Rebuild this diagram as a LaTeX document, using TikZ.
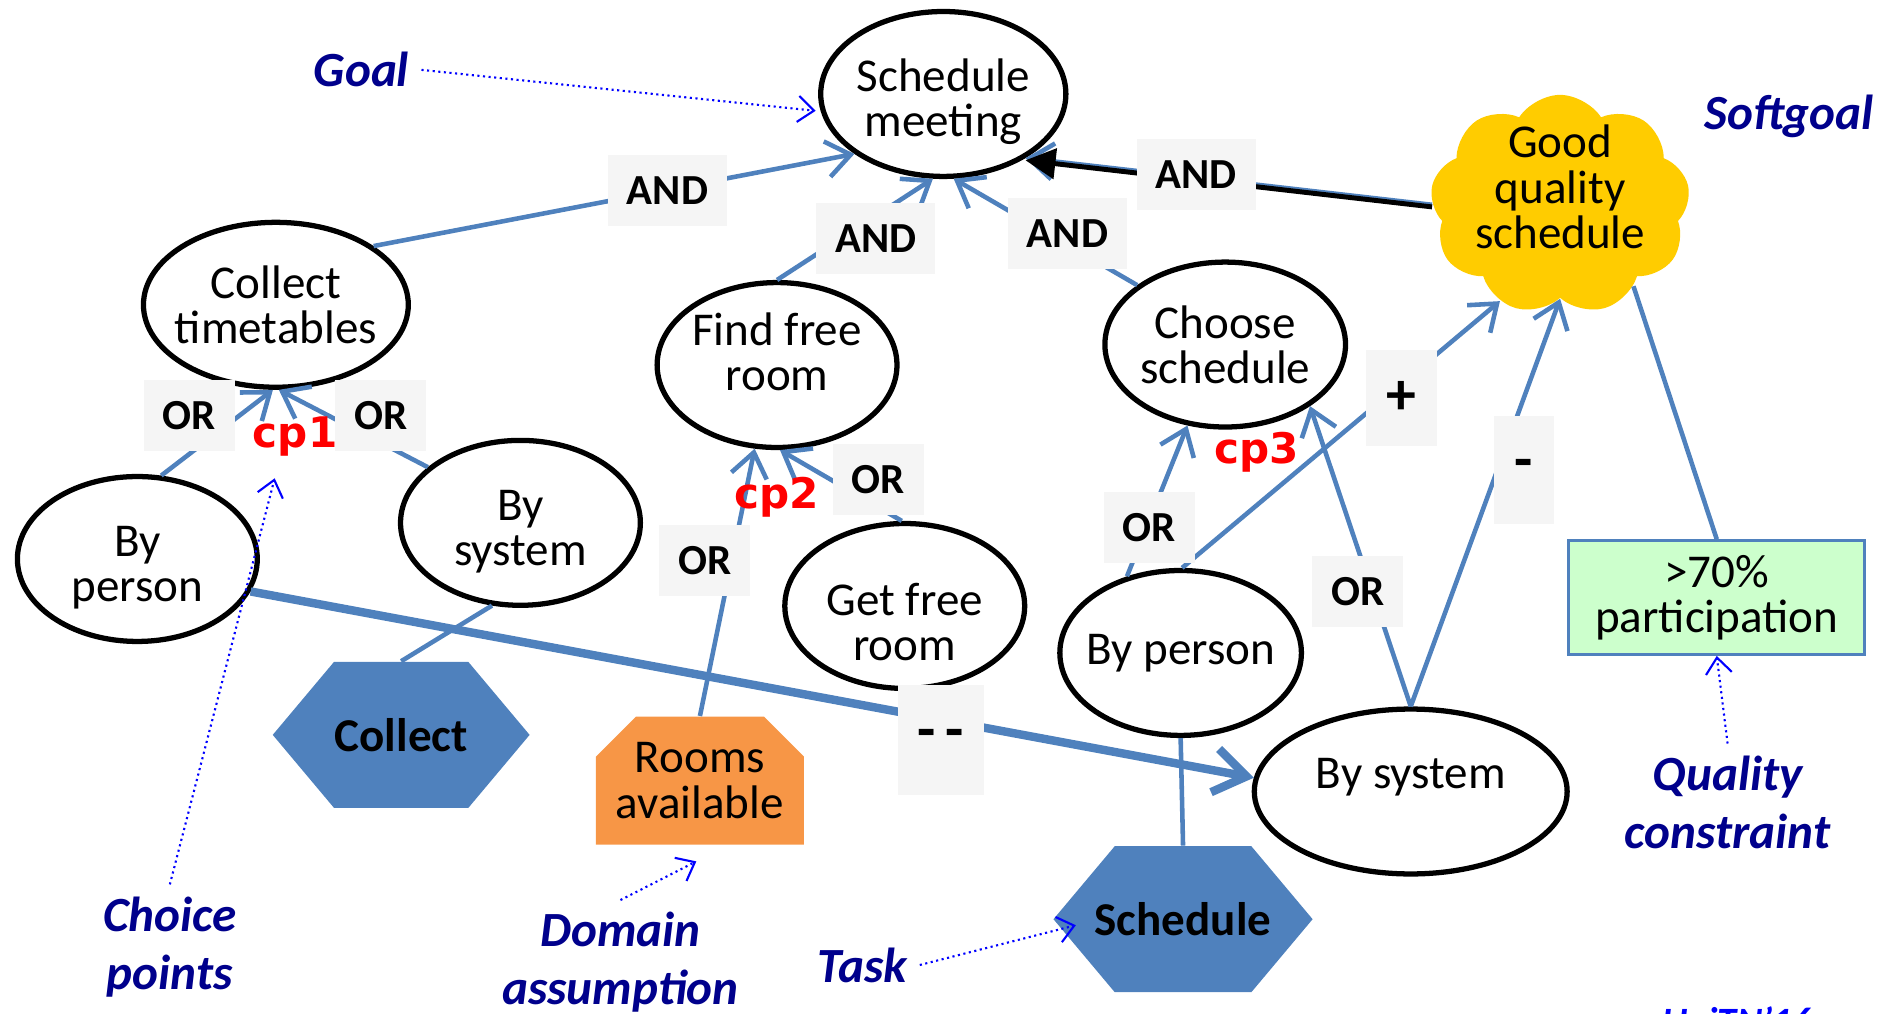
\documentclass[tikz,border=0pt]{standalone}
\usepackage{fontspec}
\setmainfont{Carlito}
\newfontfamily\cpfont{DejaVu Sans}
\usetikzlibrary{shapes.geometric,shapes.symbols,shapes.misc,arrows.meta}
\definecolor{linkblue}{HTML}{4F81BD}
\definecolor{labelgray}{HTML}{F5F5F5}
\definecolor{softyellow}{HTML}{FFCC00}
\definecolor{domorange}{HTML}{F79646}
\definecolor{qcgreen}{HTML}{CCFFCC}
\definecolor{notenavy}{HTML}{00008C}
\definecolor{noteblue}{HTML}{0000FF}
\begin{document}
\begin{tikzpicture}[x=0.012047cm, y=-0.012047cm,
        font=\fontsize{13.4}{12.9}\selectfont,
        goal/.style={ellipse, draw, fill=white, line width=1.5pt, minimum width=2.4cm,
          minimum height=1.65cm, inner sep=0pt, align=center},
        task/.style={signal, signal to=west and east, signal pointer angle=100, fill=linkblue,
          minimum width=2.57cm, minimum height=1.46cm, inner sep=0pt,
          font=\fontsize{13.4}{13.8}\selectfont\bfseries},
        link/.style={draw=linkblue, line width=1.3pt, -{Straight Barb[length=2.4mm,width=3.6mm]}},
        plain/.style={draw=linkblue, line width=1.3pt},
        lbl/.style={fill=labelgray, font=\fontsize{12.2}{13}\selectfont\bfseries,
          minimum height=0.71cm, inner xsep=0.19cm},
        sign/.style={fill=labelgray, font=\fontsize{17}{18}\selectfont\bfseries},
        cp/.style={text=red, font=\cpfont\fontsize{12}{13}\selectfont\bfseries},
        note/.style={text=notenavy, font=\fontsize{14}{16.5}\selectfont\bfseries\itshape, align=center},
        pointer/.style={draw=noteblue, densely dotted, line width=0.6pt,
          -{Straight Barb[length=1.6mm,width=2.6mm]}}]
  \useasboundingbox (0,0) rectangle (1568,841);

  % goals
  \node[goal, text height=0.93cm, inner ysep=-0.05cm] (sm) at (783,78) {Schedule\\meeting};
  \node[goal, minimum width=2.65cm, inner xsep=-0.08cm] (ct) at (229,253) {Collect\\timetables};
  \node[goal, text depth=0.27cm, inner ysep=-0.05cm] (ffr) at (645,303) {Find free\\room};
  \node[goal] (cs) at (1017,286) {Choose\\schedule};
  \node[goal, text height=0.93cm, inner ysep=-0.05cm] (bpl) at (114,464) {By\\person};
  \node[goal, text height=0.93cm, inner ysep=-0.05cm] (bsl) at (432,434) {By\\system};
  \node[goal, text height=1.1cm, inner ysep=-0.1cm] (gfr) at (751,503) {Get free\\room};
  \node[goal, inner xsep=-0.09cm] (bpr) at (980,542) {By person};
  \node[goal, minimum width=3.13cm, text depth=0.36cm] (bsr) at (1171,657) {By system};

  % softgoal, tasks, domain assumption, quality constraint
  \node[cloud, cloud puffs=9, cloud puff arc=115, aspect=1.15, fill=softyellow,
    minimum width=2.6cm, minimum height=2.2cm, inner xsep=-0.1cm, inner ysep=-0.15cm,
    align=center, text depth=0.36cm] (gqs) at (1295,170) {Good\\quality\\schedule};
  \node[task] (collect) at (333,610) {Collect};
  \node[task, inner xsep=-0.2cm] (sched) at (982,763) {Schedule};
  \node[chamfered rectangle, chamfered rectangle corners={north west,north east},
    chamfered rectangle xsep=0.2cm, chamfered rectangle ysep=0.2cm, fill=domorange,
    minimum width=2.07cm, minimum height=1.28cm, inner sep=0pt, align=center]
    (rooms) at (581,648) {Rooms\\available};
  \node[draw=linkblue, fill=qcgreen, line width=0.8pt, minimum width=2.96cm,
    minimum height=1.14cm, align=center] (part) at (1425,496) {>70\%\\participation};

  % refinements and contributions
  \draw[link] (ct.31) -- (sm.214);
  \draw[link] (ffr.90) -- (sm.263);
  \draw[link] (cs.146) -- (sm.277);
  \draw[link] (gqs.180) -- (sm.322);
  \draw[black, line width=1.4pt, -{Triangle[length=3mm,width=3mm]},
    transform canvas={yshift=-0.6pt}] (gqs.180) -- (sm.322);
  \draw[link] (bpl.74) -- (ct.268);
  \draw[link] (bsl.149) -- (ct.272);
  \draw[link] (rooms.north) -- (ffr.255);
  \draw[link] (gfr.92) -- (ffr.272);
  \draw[link] (bpr.125) -- (cs.245);
  \draw[link] (bsr.north) -- (cs.324);
  \draw[link] (bpr.89) -- (gqs.238);
  \draw[link] (bsr.north) -- (gqs.270);
  \draw[plain] (gqs.312) -- (part.north);
  \draw[plain] (bsl.251) -- (collect.north);
  \draw[plain] (bpr.south) -- (sched.north);
  \draw[draw=linkblue, line width=2.4pt, -{Straight Barb[length=3.2mm,width=4.4mm]}]
    (bpl.344) -- (bsr.175);

  % link labels
  \node[lbl] (and1) at (554,158) {AND};
  \node[lbl] (and2) at (727,198) {AND};
  \node[lbl] (and3) at (886,194) {AND};
  \node[lbl] (and4) at (993,145) {AND};
  \node[lbl] (or1) at (157,345) {OR};
  \node[lbl] (or2) at (316,345) {OR};
  \node[lbl] (or3) at (729,398) {OR};
  \node[lbl] (or4) at (585,465) {OR};
  \node[lbl] (or5) at (954,438) {OR};
  \node[lbl] (or6) at (1127,491) {OR};
  \node[sign, minimum width=0.71cm, minimum height=0.96cm] (plus) at (1163,330) {+};
  \node[sign, minimum width=0.61cm, minimum height=1.08cm] (minus) at (1265,390) {-};
  \node[sign, minimum width=0.86cm, minimum height=1.1cm] (minus2) at (781,614) {-\,-};

  % choice points
  \node[cp] (cp1) at (245,362) {cp1};
  \node[cp] (cp2) at (645,413) {cp2};
  \node[cp] (cp3) at (1043,375) {cp3};

  % notes
  \node[note] (goalnote) at (300,58) {Goal};
  \node[note] (softnote) at (1485,97) {Softgoal};
  \node[note] (choicenote) at (141,786) {Choice\\points};
  \node[note] (domnote) at (515,799) {Domain\\assumption};
  \node[note] (tasknote) at (716,801) {Task};
  \node[note] (qualnote) at (1434,666) {Quality\\constraint};
  \node[note, text=noteblue, font=\fontsize{11}{12}\selectfont\bfseries\itshape,
    anchor=north, inner sep=0pt] (unitn) at (1442,835) {UniTN'16};
  \coordinate (goaltip) at (677,92);
  \coordinate (choicetip) at (228,397);
  \coordinate (domtip) at (578,715);
  \coordinate (tasktip) at (893,768);
  \draw[pointer] (goalnote.east) -- (goaltip);
  \draw[pointer] (choicenote.north) -- (choicetip);
  \draw[pointer] (domnote.north) -- (domtip);
  \draw[pointer] (tasknote.east) -- (tasktip);
  \draw[pointer] (qualnote.north) -- (part.south);
\end{tikzpicture}
\end{document}
